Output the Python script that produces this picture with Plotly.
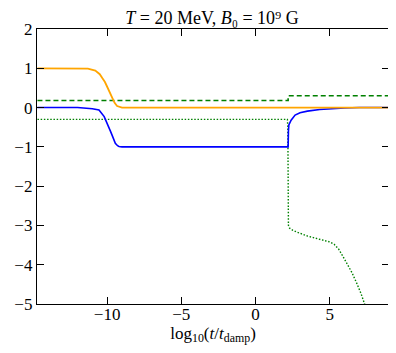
import plotly.graph_objects as go

# -----------------------------
# Data
# -----------------------------
t_orange = [-14.7, -12.0, -11.3, -10.8, -10.5, -10.33, -10.15, -10.0, -9.83, -9.67,
            -9.5, -9.33, -9.15, -9.0, -8.5, 9.0]
orange = [1.0, 1.0, 0.99, 0.94, 0.85, 0.75, 0.65, 0.53, 0.38, 0.24,
          0.12, 0.04, 0.01, 0.0, 0.0, 0.0]

t_blue = [-14.7, -12.0, -11.0, -10.55, -10.2, -10.05, -9.9, -9.78, -9.67, -9.55,
          -9.45, -9.3, -9.2, -9.0, 2.2, 2.22, 2.25, 2.4, 2.67, 3.0,
          3.5, 4.33, 5.0, 6.0, 7.0, 9.0]
blue = [0.0, 0.0, -0.03, -0.06, -0.23, -0.35, -0.49, -0.6, -0.7, -0.81,
        -0.91, -0.97, -0.99, -1.0, -1.0, -0.6, -0.44, -0.32, -0.19, -0.13,
        -0.09, -0.05, -0.03, -0.01, 0.0, 0.0]

t_dash = [-14.7, 2.2, 2.2, 9.0]
green_dash = [0.18, 0.18, 0.30, 0.30]

t_dot = [-14.7, 2.15, 2.18, 2.2, 2.22, 2.3, 2.4, 2.5, 2.8, 3.1,
         3.5, 4.0, 4.5, 5.0, 5.3, 5.6, 5.9, 6.2, 6.5, 6.8,
         7.1, 7.4]
green_dot = [-0.3, -0.3, -0.5, -1.5, -3.0, -3.07, -3.1, -3.12, -3.17, -3.22,
             -3.27, -3.32, -3.37, -3.42, -3.48, -3.6, -3.79, -3.98, -4.2, -4.45,
             -4.72, -5.05]

x_ticks = [-10, -5, 0, 5]
y_ticks = [-5, -4, -3, -2, -1, 0, 1, 2]

FONT = "Liberation Serif"

# -----------------------------
# Plot
# -----------------------------
fig = go.Figure()

fig.add_trace(go.Scatter(x=t_dash, y=green_dash, mode="lines",
                         line=dict(color="green", width=1.6, dash="5px,3px")))
fig.add_trace(go.Scatter(x=t_dot, y=green_dot, mode="lines",
                         line=dict(color="green", width=1.4, dash="1.5px,1.7px")))
fig.add_trace(go.Scatter(x=t_blue, y=blue, mode="lines",
                         line=dict(color="blue", width=1.6)))
fig.add_trace(go.Scatter(x=t_orange, y=orange, mode="lines",
                         line=dict(color="orange", width=1.8)))

axis_style = dict(
    showgrid=False, zeroline=False,
    showline=True, linecolor="black", linewidth=1.3,
    mirror="ticks", ticks="inside", ticklen=7, tickwidth=1.2, tickcolor="black",
    tickfont=dict(family=FONT, size=17, color="black"),
)

fig.update_xaxes(range=[-14.73, 9.0], tickvals=x_ticks, ticklabelstandoff=-6,
                 title=dict(text="log<sub>10</sub>(<i>t</i>/<i>t</i><sub>damp</sub>)",
                            font=dict(family=FONT, size=17, color="black"), standoff=2),
                 **axis_style)
fig.update_yaxes(range=[-5, 2], tickvals=y_ticks, **axis_style)

# page body adds an 8px offset, so the figure is 8px smaller
fig.update_layout(
    width=388, height=345,
    showlegend=False,
    plot_bgcolor="white", paper_bgcolor="white",
    margin=dict(l=26, r=6, t=21, b=49),
    title=dict(text="<i>T</i> = 20 MeV, <i>B</i>₀ = 10⁹ G",
               font=dict(family=FONT, size=18, color="black"),
               x=0.526, xanchor="center", y=0.99, yanchor="top"),
)

fig.write_html("out.html")
